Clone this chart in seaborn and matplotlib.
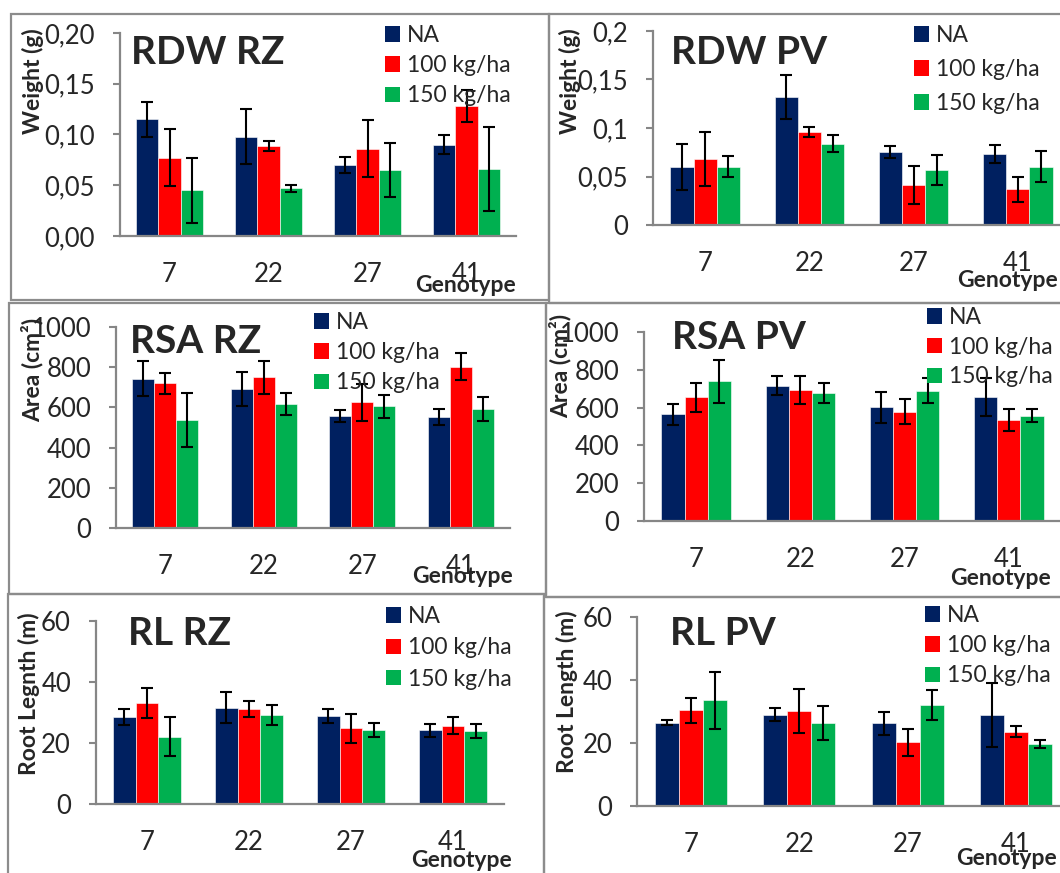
import numpy as np
import pandas as pd
import matplotlib
matplotlib.use("Agg")
import matplotlib.pyplot as plt
import seaborn as sns
from matplotlib.patches import Patch, Rectangle

W, H = 1060, 873

genotypes = ["7", "22", "27", "41"]
treatments = ["NA", "100 kg/ha", "150 kg/ha"]
colors = ["#002060", "#FF0000", "#00B050"]

# mean values per treatment (rows) and genotype (cols), with error bars
rdw_rz = [[0.115, 0.098, 0.070, 0.090],
          [0.077, 0.089, 0.086, 0.128],
          [0.045, 0.047, 0.065, 0.066]]
rdw_rz_err = [[0.0175, 0.0275, 0.008, 0.0097],
              [0.028, 0.005, 0.028, 0.0155],
              [0.032, 0.0035, 0.027, 0.041]]
rdw_pv = [[0.060, 0.132, 0.075, 0.073],
          [0.068, 0.096, 0.041, 0.037],
          [0.060, 0.084, 0.057, 0.060]]
rdw_pv_err = [[0.0235, 0.023, 0.006, 0.009],
              [0.028, 0.0048, 0.0197, 0.013],
              [0.011, 0.0087, 0.0155, 0.0158]]
rsa_rz = [[742, 691, 557, 552],
          [719, 749, 625, 803],
          [537, 617, 605, 593]]
rsa_rz_err = [[87, 85, 31, 38],
              [54, 80, 93, 68],
              [135, 57, 58, 60]]
rsa_pv = [[565, 716, 601, 657],
          [654, 693, 578, 534],
          [739, 678, 689, 558]]
rsa_pv_err = [[55, 51, 83, 99],
              [75, 72, 67, 59],
              [114, 54, 66, 35]]
rl_rz = [[28.5, 31.6, 29.0, 24.2],
         [33.1, 31.2, 24.8, 25.7],
         [22.1, 29.2, 24.2, 23.9]]
rl_rz_err = [[2.6, 5.2, 2.3, 2.1],
             [4.8, 2.7, 4.7, 2.7],
             [6.5, 3.2, 2.3, 2.3]]
rl_pv = [[26.5, 29.0, 26.2, 28.9],
         [30.4, 30.1, 20.2, 23.6],
         [33.6, 26.4, 32.0, 19.6]]
rl_pv_err = [[0.85, 2.0, 3.65, 10.3],
              [3.9, 7.0, 4.35, 1.75],
              [9.0, 5.5, 4.8, 1.3]]

sns.set_style("white")
plt.rcParams["font.family"] = ["Lato", "DejaVu Sans"]

fig = plt.figure(figsize=(W / 100, H / 100), dpi=100)


def px_rect(x0, y0, x1, y1):
    return [x0 / W, 1 - y1 / H, (x1 - x0) / W, (y1 - y0) / H]


# panel frames
frames = [(11, 14, 549, 300), (549, 14, 1075, 303), (9, 303, 546, 594),
          (546, 303, 1075, 597), (8, 594, 544, 890), (544, 597, 1075, 890)]
for x0, y0, x1, y1 in frames:
    fig.patches.append(Rectangle((x0 / W, 1 - y1 / H), (x1 - x0) / W, (y1 - y0) / H,
                                 transform=fig.transFigure, fill=False,
                                 edgecolor="#8c8c8c", lw=1.6, zorder=-1))

panels = [
    dict(vals=rdw_rz, err=rdw_rz_err, box=(120, 33, 516, 236), ylim=0.20, step=0.05,
         fmt=lambda v: ("%.2f" % v).replace(".", ","), title="RDW RZ", tpos=(131, 64),
         ylab="Weight (g)", ylpos=(33, 81), leg=(385, 25), lsp=0.40, gpos=(415, 292)),
    dict(vals=rdw_pv, err=rdw_pv_err, box=(653, 31, 1070, 225), ylim=0.2, step=0.05,
         fmt=lambda v: ("%g" % round(v, 2)).replace(".", ","), title="RDW PV", tpos=(671, 64),
         ylab="Weight (g)", ylpos=(570, 81), leg=(914, 25), lsp=0.57, gpos=(957, 287)),
    dict(vals=rsa_rz, err=rsa_rz_err, box=(116, 327, 510, 528), ylim=1000, step=200,
         fmt=lambda v: "%d" % v, title="RSA RZ", tpos=(130, 353),
         ylab="Area (cm²)", ylpos=(32, 370), leg=(314, 312), lsp=0.40, gpos=(412, 583)),
    dict(vals=rsa_pv, err=rsa_pv_err, box=(644, 332, 1061, 521), ylim=1000, step=200,
         fmt=lambda v: "%d" % v, title="RSA PV", tpos=(672, 349),
         ylab="Area (cm²)", ylpos=(560, 366), leg=(927, 307), lsp=0.38, gpos=(950, 585)),
    dict(vals=rl_rz, err=rl_rz_err, box=(96, 621, 504, 804), ylim=60, step=20,
         fmt=lambda v: "%d" % v, title="RL RZ", tpos=(128, 645),
         ylab="Root Legnth (m)", ylpos=(29, 694), leg=(386, 606), lsp=0.45, gpos=(411, 867)),
    dict(vals=rl_pv, err=rl_pv_err, box=(637, 617, 1070, 806), ylim=60, step=20,
         fmt=lambda v: "%d" % v, title="RL PV", tpos=(670, 645),
         ylab="Root Length (m)", ylpos=(567, 692), leg=(925, 605), lsp=0.40, gpos=(956, 865)),
]

grey = "#868686"
for p in panels:
    ax = fig.add_axes(px_rect(*p["box"]))
    ax.patch.set_visible(False)
    df = pd.DataFrame({
        "Genotype": [g for t in treatments for g in genotypes],
        "Treatment": [t for t in treatments for g in genotypes],
        "Value": [v for row in p["vals"] for v in row],
    })
    sns.barplot(data=df, x="Genotype", y="Value", hue="Treatment", order=genotypes,
                hue_order=treatments, palette=colors, errorbar=None, width=0.667,
                saturation=1, legend=False, edgecolor="white", linewidth=0.4, ax=ax)
    bar_conts = list(ax.containers)
    for ti, cont in enumerate(bar_conts):
        for bar in cont.patches:
            xc = bar.get_x() + bar.get_width() / 2
            gi = int(round(xc))
            ax.errorbar(xc, bar.get_height(), yerr=p["err"][ti][gi], fmt="none",
                        ecolor="black", elinewidth=1.5, capsize=4.5, capthick=1.5, zorder=5)
    ax.set_xlim(-0.5, 3.5)
    ax.set_ylim(0, p["ylim"])
    yt = np.arange(0, p["ylim"] + p["step"] / 2, p["step"])
    ax.set_yticks(yt)
    ax.set_yticklabels([p["fmt"](v) for v in yt], fontsize=18.5)
    ax.set_xticks(range(4))
    ax.set_xticklabels(genotypes, fontsize=18.5)
    ax.set_xticks(np.arange(-0.5, 4, 1), minor=True)
    ax.tick_params(axis="x", which="major", length=0, pad=19)
    ax.tick_params(axis="x", which="minor", length=6, width=1.5, color=grey, direction="out")
    ax.tick_params(axis="y", length=5, width=1.5, color=grey, direction="out", pad=13, left=True)
    ax.set_xlabel("")
    ax.set_ylabel("")
    for s in ["top", "right"]:
        ax.spines[s].set_visible(False)
    for s in ["left", "bottom"]:
        ax.spines[s].set_color(grey)
        ax.spines[s].set_linewidth(1.6)
    ax.spines["bottom"].set_zorder(6)

    fig.text(p["tpos"][0] / W, 1 - p["tpos"][1] / H, p["title"], fontsize=28,
             fontweight="bold", va="baseline", ha="left")
    fig.text(p["ylpos"][0] / W, 1 - p["ylpos"][1] / H, p["ylab"], fontsize=16.5,
             fontweight="bold", rotation=90, va="center", ha="center")
    fig.text(p["gpos"][0] / W, 1 - p["gpos"][1] / H, "Genotype", fontsize=16.5,
             fontweight="bold", va="baseline", ha="left")
    handles = [Patch(facecolor=c, edgecolor="none", label=t) for c, t in zip(colors, treatments)]
    ax.legend(handles=handles, loc="upper left", frameon=False, fontsize=16.5,
              bbox_to_anchor=(p["leg"][0] / W, 1 - p["leg"][1] / H),
              bbox_transform=fig.transFigure, handlelength=0.66, handleheight=0.66,
              handletextpad=0.3, labelspacing=p["lsp"], borderpad=0, borderaxespad=0)

fig.savefig("out.png", dpi=100)
